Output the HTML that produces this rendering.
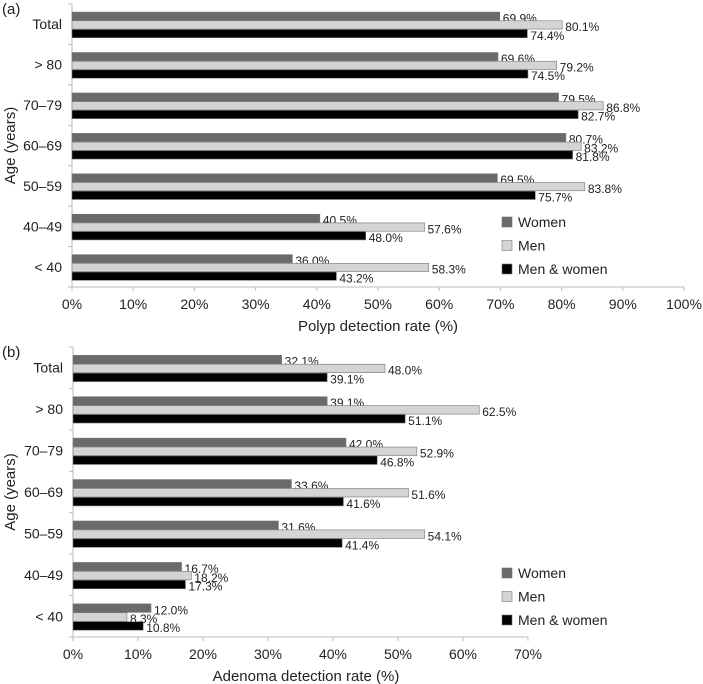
<!DOCTYPE html>
<html><head><meta charset="utf-8"><style>
body{margin:0;background:#fff;}
svg{display:block;font-family:"Liberation Sans",Arial,sans-serif;}
</style></head><body>
<svg id="s" width="703" height="684" viewBox="0 0 703 684" xmlns="http://www.w3.org/2000/svg"></svg>
<script>
const categories = ["Total", "> 80", "70–79", "60–69", "50–59", "40–49", "< 40"];
const seriesNames = ["Women", "Men", "Men & women"];
const polypWomen = [69.9, 69.6, 79.5, 80.7, 69.5, 40.5, 36.0];
const polypMen = [80.1, 79.2, 86.8, 83.2, 83.8, 57.6, 58.3];
const polypAll = [74.4, 74.5, 82.7, 81.8, 75.7, 48.0, 43.2];
const adenWomen = [32.1, 39.1, 42.0, 33.6, 31.6, 16.7, 12.0];
const adenMen = [48.0, 62.5, 52.9, 51.6, 54.1, 18.2, 8.3];
const adenAll = [39.1, 51.1, 46.8, 41.6, 41.4, 17.3, 10.8];
const polypTicks = [0,10,20,30,40,50,60,70,80,90,100];
const adenTicks = [0,10,20,30,40,50,60,70];

const NS="http://www.w3.org/2000/svg";
const svg=document.getElementById('s');
const fills=["#6a6a6a","#d4d4d4","#000"];
function el(tag,attrs,parent){const e=document.createElementNS(NS,tag);for(const k in attrs)e.setAttribute(k,attrs[k]);(parent||svg).appendChild(e);return e;}

function chart(o){
  const g=el('g',{});
  
  
  const x=v=>o.x0+v*o.pxPer;
  const band=(o.y1-o.y0)/categories.length;
  const y=i=>o.y0+i*band;
  const bh=band*0.215, off=band*0.2;
  const pl=el('text',{x:2,y:o.y0+10,'font-size':15,fill:'#222'},g);pl.textContent=o.panel;
  
  
  const ya=el('line',{x1:o.x0,y1:o.y0,x2:o.x0,y2:o.y1,stroke:'#bbb','stroke-width':1},g);
  
  
  const xa=el('line',{x1:o.x0,y1:o.y1,x2:x(o.ticks[o.ticks.length-1]),y2:o.y1,stroke:'#bbb','stroke-width':1},g);
  
  
  for(let i=0;i<=categories.length;i++){el('line',{x1:o.x0-4,x2:o.x0,y1:y(i),y2:y(i),stroke:'#bbb'},g);}
  o.ticks.forEach(t=>{
    el('line',{x1:x(t),x2:x(t),y1:o.y1,y2:o.y1+4,stroke:'#bbb'},g);
    const tl=el('text',{x:x(t),y:o.y1+22,'font-size':14,'text-anchor':'middle',fill:'#222'},g);tl.textContent=t+'%';
    
    
  });
  const xt=el('text',{x:o.titleX,y:o.y1+44,'font-size':15,'text-anchor':'middle',fill:'#222'},g);xt.textContent=o.title;
  
  
  const yt=el('text',{x:0,y:0,'font-size':15,'text-anchor':'middle',fill:'#222',transform:`translate(15,${(o.y0+o.y1)/2}) rotate(-90)`},g);yt.textContent='Age (years)';
  
  
  categories.forEach((c,i)=>{
    const cl=el('text',{x:o.x0-10,y:y(i)+band/2+5,'font-size':14,'text-anchor':'end',fill:'#222'},g);cl.textContent=c;
    
    
    o.series.forEach((s,k)=>{
      const by=y(i)+off+k*bh;
      const r=el('rect',{x:o.x0,y:by,width:x(s[i])-o.x0,height:bh-0.4,fill:fills[k],stroke:'#777','stroke-width':0.6},g);
      
      
      const vl=el('text',{x:x(s[i])+3,y:by+bh/2+6,'font-size':12,fill:'#222'},g);vl.textContent=s[i].toFixed(1)+'%';
      
      
    });
  });
  seriesNames.forEach((n,k)=>{
    const ly=o.legY+k*23.5;
    const lg=el('g',{},g);
    
    
    el('rect',{x:o.legX,y:ly-5,width:10,height:10,fill:fills[k],stroke:'#777','stroke-width':0.6},lg);
    const t=el('text',{x:o.legX+16,y:ly+5,'font-size':14,fill:'#222'},lg);t.textContent=n;
  });
}
chart({name:'polyp-chart',panel:'(a)',x0:72,pxPer:6.12,y0:4,y1:287,ticks:polypTicks,series:[polypWomen,polypMen,polypAll],title:'Polyp detection rate (%)',titleX:378,legX:502,legY:222});
chart({name:'adenoma-chart',panel:'(b)',x0:73,pxPer:6.5,y0:347,y1:637,ticks:adenTicks,series:[adenWomen,adenMen,adenAll],title:'Adenoma detection rate (%)',titleX:306,legX:502,legY:573});
</script>
</body></html>
